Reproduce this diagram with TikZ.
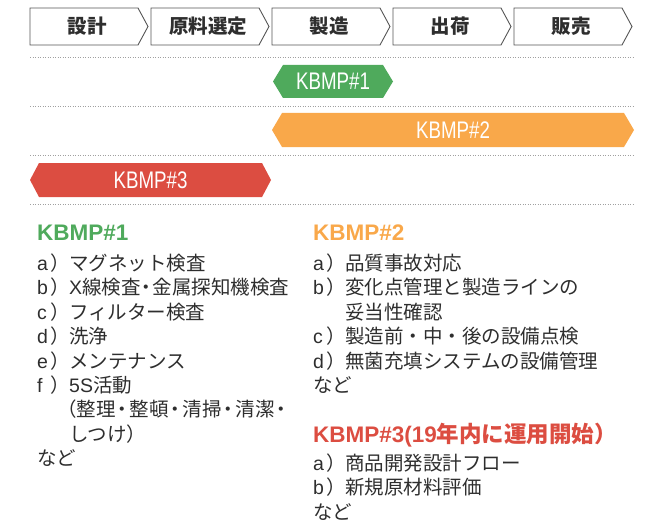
\documentclass[tikz,border=0pt]{standalone}
\usepackage{fontspec}
\setmainfont{Liberation Sans}
\newfontfamily\jp{Noto Sans CJK JP}
\newfontfamily\latn{Liberation Sans}
\newfontfamily\cond[FakeStretch=0.78]{Liberation Sans}
\definecolor{kgreen}{HTML}{4FAA5C}
\definecolor{korange}{HTML}{F9A84A}
\definecolor{kred}{HTML}{DC4D41}
\definecolor{txt}{HTML}{2E2E2E}
\definecolor{boxline}{HTML}{555555}
\definecolor{dotgray}{HTML}{A0A0A0}
\newcommand\lbl[1]{\makebox[32pt][l]{\makebox[13pt][l]{\latn #1}）}}
\newcommand\dtn{\makebox[12pt][c]{・}}
\newcommand\dtw{\makebox[14pt][c]{・}}
\begin{document}
\begin{tikzpicture}[x=1pt,y=-1pt,
  chev/.style={draw=boxline,line width=0.9pt,fill=white,line join=miter},
  chevtext/.style={inner sep=0,font=\jp\bfseries\fontsize{19.5}{19.5}\selectfont,text=txt},
  dotline/.style={draw=dotgray,line width=0.8pt,dash pattern=on 1.3pt off 1.2pt},
  hextext/.style={inner sep=0,text=white,font=\cond\fontsize{24}{24}\selectfont},
  head/.style={anchor=base west,inner sep=0,font=\latn\bfseries\fontsize{22.5}{22.5}\selectfont},
  item/.style={anchor=base west,inner sep=0,text=txt,font=\jp\fontsize{19.5}{24}\selectfont}]
\useasboundingbox (0,0) rectangle (650,524);
% process chevrons
\foreach \i/\t in {0/設計,1/原料選定,2/製造,3/出荷,4/販売}{
  \pgfmathsetmacro\xl{30+121*\i}
  \draw[chev] (\xl,8) -- (\xl+108,8) -- (\xl+118,26.5) -- (\xl+108,45) -- (\xl,45) -- cycle;
  \node[chevtext] (c\i) at (\xl+57,26.5) {\t};
}
% dotted separators
\foreach \y in {57,106,155,204}{
  \draw[dotline] (30,\y) -- (633,\y);
}
% hexagon bars
\fill[kgreen] (273,81.5) -- (283,65) -- (383,65) -- (393,81.5) -- (383,98) -- (283,98) -- cycle;
\node[hextext] (h1) at (333,81.5) {KBMP\#1};
\fill[korange] (272,130) -- (282,113) -- (624,113) -- (634,130) -- (624,147) -- (282,147) -- cycle;
\node[hextext] (h2) at (453,130) {KBMP\#2};
\fill[kred] (30,180) -- (39,163) -- (262,163) -- (271,180) -- (262,197) -- (39,197) -- cycle;
\node[hextext] (h3) at (150.5,180) {KBMP\#3};
% left column
\node[head,text=kgreen] (t1) at (37,240) {KBMP\#1};
\node[item] (l0) at (37,270.5) {\lbl{a}マグネット検査};
\node[item] (l1) at (37,294.9) {\lbl{b}{\latn X}線検査\dtn 金属探知機検査};
\node[item] (l2) at (37,319.3) {\lbl{c}フィルター検査};
\node[item] (l3) at (37,343.7) {\lbl{d}洗浄};
\node[item] (l4) at (37,368.1) {\lbl{e}メンテナンス};
\node[item] (l5) at (37,392.5) {\lbl{f}{\latn 5S}活動};
\node[item] (l6) at (57,416.9) {（整理\dtw 整頓\dtw 清掃\dtw 清潔\dtw};
\node[item] (l7) at (69,441.3) {しつけ）};
\node[item] (l8) at (37,465.7) {など};
% right column
\node[head,text=korange] (t2) at (313,240) {KBMP\#2};
\node[item] (r0) at (313,270.5) {\lbl{a}品質事故対応};
\node[item] (r1) at (313,294.9) {\lbl{b}変化点管理と製造ラインの};
\node[item] (r2) at (345,319.3) {妥当性確認};
\node[item] (r3) at (313,343.7) {\lbl{c}製造前・中・後の設備点検};
\node[item] (r4) at (313,368.1) {\lbl{d}無菌充填システムの設備管理};
\node[item] (r5) at (313,392.5) {など};
\node[head,text=kred] (t3) at (313,442) {KBMP\#3(19{\jp\bfseries 年内に運用開始）}};
\node[item] (s0) at (313,470.5) {\lbl{a}商品開発設計フロー};
\node[item] (s1) at (313,494.9) {\lbl{b}新規原材料評価};
\node[item] (s2) at (313,519.3) {など};
\end{tikzpicture}
\end{document}
